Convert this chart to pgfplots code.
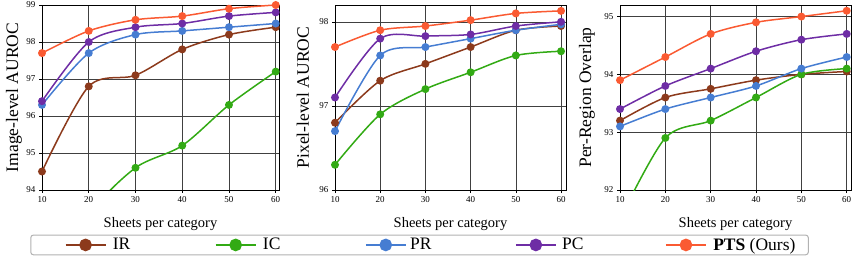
\documentclass[border=0pt]{standalone}
\usepackage{pgfplots}
\pgfplotsset{compat=1.18}
\usepackage{fontspec}
\setmainfont{Liberation Serif}
\definecolor{cIR}{RGB}{140,58,28}
\definecolor{cIC}{RGB}{50,170,20}
\definecolor{cPR}{RGB}{70,125,210}
\definecolor{cPC}{RGB}{110,45,165}
\definecolor{cPTS}{RGB}{250,90,50}
\pgfplotsset{
  leg/.style={legend image code/.code={\draw[mark repeat=2,mark phase=2,##1,line width=2.6pt,mark size=5pt] plot coordinates {(0pt,0pt) (20pt,0pt) (40pt,0pt)};}},
  legfirst/.style={legend image code/.code={\path (-22pt,0pt); \draw[mark repeat=2,mark phase=2,##1,line width=2.6pt,mark size=5pt] plot coordinates {(0pt,0pt) (20pt,0pt) (40pt,0pt)};}},
  myax/.style={
    scale only axis, height=185pt, xmin=10,
    xtick={10,20,30,40,50,60},
    xtick pos=left, ytick pos=left,
    grid=major, grid style={black!75, line width=0.6pt},
    axis line style={black, line width=0.7pt},
    tick style={black, line width=0.6pt}, tick align=outside, major tick length=3pt,
    ticklabel style={font=\fontsize{9}{10}\selectfont},
    /pgf/number format/assume math mode=true,
    xlabel={Sheets per category},
    x label style={at={(axis description cs:0.5,-0.184)}, anchor=center, font=\fontsize{14.5}{16}\selectfont},
    y label style={anchor=center, rotate=0, font=\fontsize{17.5}{19}\selectfont},
    every axis plot/.append style={line width=1.5pt, smooth, mark=*, mark size=3.2pt, mark options={solid}},
  }
}
\begin{document}
\begin{tikzpicture}
\useasboundingbox (0,0) rectangle (858pt,257pt);
% ---------- Image-level AUROC
\begin{axis}[myax, at={(42pt,67pt)}, anchor=south west, width=237pt,
  xmax=60.7, ymin=94, ymax=99, ytick={94,95,96,97,98,99},
  ylabel={Image-level AUROC},
  y label style={at={(axis description cs:-0.118,0.5)}}]
\addplot[cIR] coordinates {(10,94.5) (20,96.8) (30,97.1) (40,97.8) (50,98.2) (60,98.4)};
\addplot[cIC] coordinates {(10,91.4) (20,93.35) (30,94.6) (40,95.2) (50,96.3) (60,97.2)};
\addplot[cPR] coordinates {(10,96.3) (20,97.7) (30,98.2) (40,98.3) (50,98.4) (60,98.5)};
\addplot[cPC] coordinates {(10,96.4) (20,98.0) (30,98.4) (40,98.5) (50,98.7) (60,98.8)};
\addplot[cPTS] coordinates {(10,97.7) (20,98.3) (30,98.6) (40,98.7) (50,98.9) (60,99.0)};
\end{axis}
% ---------- Pixel-level AUROC
\begin{axis}[myax, at={(335pt,67pt)}, anchor=south west, width=231pt,
  xmax=61.1, ymin=96, ymax=98.2, ytick={96,97,98},
  ylabel={Pixel-level AUROC},
  y label style={at={(axis description cs:-0.139,0.5)}},
  legend columns=5,
  legend style={at={(0.366,-0.297)}, anchor=center, draw=black!30, line width=1pt,
    rounded corners=2.5pt, inner xsep=12pt, inner ysep=1pt, column sep=0pt,
    nodes={inner xsep=0pt},
    font=\fontsize{17.5}{19}\selectfont},
  leg]
\addplot[cIR, legfirst] coordinates {(10,96.8) (20,97.3) (30,97.5) (40,97.7) (50,97.9) (60,97.95)};
\addlegendentry{\makebox[107.5pt][l]{\hspace{6pt}IR}}
\addplot[cIC] coordinates {(10,96.3) (20,96.9) (30,97.2) (40,97.4) (50,97.6) (60,97.65)};
\addlegendentry{\makebox[107.5pt][l]{\hspace{6pt}IC}}
\addplot[cPR] coordinates {(10,96.7) (20,97.6) (30,97.7) (40,97.8) (50,97.9) (60,97.97)};
\addlegendentry{\makebox[107.5pt][l]{\hspace{3pt}PR}}
\addplot[cPC] coordinates {(10,97.1) (20,97.8) (30,97.83) (40,97.85) (50,97.95) (60,98.0)};
\addlegendentry{\makebox[107.5pt][l]{\hspace{5pt}PC}}
\addplot[cPTS] coordinates {(10,97.7) (20,97.9) (30,97.95) (40,98.02) (50,98.1) (60,98.13)};
\addlegendentry{\makebox[89pt][l]{\hspace{6pt}\textbf{PTS} (Ours)}}
\end{axis}
% ---------- Per-Region Overlap
\begin{axis}[myax, at={(620pt,67pt)}, anchor=south west, width=231pt,
  xmax=60.95, ymin=92, ymax=95.2, ytick={92,93,94,95},
  ylabel={Per-Region Overlap},
  y label style={at={(axis description cs:-0.143,0.5)}}]
\addplot[cIR] coordinates {(10,93.2) (20,93.6) (30,93.75) (40,93.9) (50,94.0) (60,94.05)};
\addplot[cIC] coordinates {(10,91.5) (20,92.9) (30,93.2) (40,93.6) (50,94.0) (60,94.1)};
\addplot[cPR] coordinates {(10,93.1) (20,93.4) (30,93.6) (40,93.8) (50,94.1) (60,94.3)};
\addplot[cPC] coordinates {(10,93.4) (20,93.8) (30,94.1) (40,94.4) (50,94.6) (60,94.7)};
\addplot[cPTS] coordinates {(10,93.9) (20,94.3) (30,94.7) (40,94.9) (50,95.0) (60,95.1)};
\end{axis}
\end{tikzpicture}
\end{document}
